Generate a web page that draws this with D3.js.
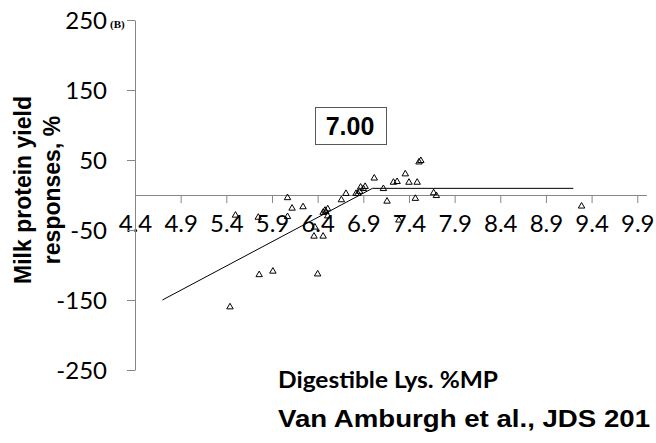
<!DOCTYPE html>
<html>
<head>
<meta charset="utf-8">
<script src="https://cdn.jsdelivr.net/npm/d3@7"></script>
<style>
  body { margin: 0; background: #fff; }
  #chart { width: 656px; height: 443px; }
  .tick text { font-family: Lato, "DejaVu Sans", sans-serif; font-size: 24px; fill: #000; }
</style>
</head>
<body>
<div id="chart"></div>
<script>
// digestible Lys (% of MP) and milk protein yield response (%) per study
const lysDigest = [5.44, 5.76, 5.91, 6.40, 5.50, 5.75, 6.07, 6.12, 6.24, 6.07,
                   6.46, 6.48, 6.51, 6.49, 6.51, 6.37, 6.36, 6.46, 6.66, 6.71,
                   6.82, 6.84, 6.86, 6.87, 6.90, 6.92, 7.02, 7.12, 7.16, 7.23,
                   7.27, 7.29, 7.36, 7.40, 7.49, 7.47, 7.51, 7.53, 7.67, 7.70, 9.29];
const proteinResp = [-160, -114, -109, -113, -29, -32, -4, -19, -17, -31,
                     -25, -22, -20, -24, -30, -46, -59, -59, -7, 2,
                     2, 2, 5, 11, 9, 12, 24, 9, -9, 18,
                     19, -36, 30, 18, 18, -5, 47, 49, 3, -1, -16];

// broken-line fit
const fitX = [4.70, 7.00, 9.20];
const fitY = [-150, 9.5, 9.5];
const breakLabel = "7.00";

const xTickLabels = [4.4, 4.9, 5.4, 5.9, 6.4, 6.9, 7.4, 7.9, 8.4, 8.9, 9.4, 9.9];
const yTickLabels = [-250, -150, -50, 50, 150, 250];

function BrokenLineChart() {

    let self = this;

    self.initialize = function(conf) {
        self.el = document.getElementById(conf.el);
        self.width = self.el.offsetWidth;
        self.height = self.el.offsetHeight;

        self.x = d3.scaleLinear().domain([4.4, 10.0]).range([135, 646.4]);
        self.y = d3.scaleLinear().domain([-250, 250]).range([370, 20]);

        self.render();
    };

    self.render = function() {
        self.svg = d3.select(self.el).append("svg")
                    .attr("width", self.width)
                    .attr("height", self.height);

        self.renderAxes();
        self.renderFit();
        self.renderPoints();
        self.renderLabels();
    };

    self.renderAxes = function() {
        let xAxis = d3.axisBottom(self.x)
                    .tickValues(xTickLabels)
                    .tickFormat(d3.format(".1f"))
                    .tickSize(8)
                    .tickSizeOuter(0)
                    .tickPadding(12);

        let gx = self.svg.append("g")
                    .attr("transform", "translate(0," + self.y(0) + ")")
                    .call(xAxis);

        let yAxis = d3.axisLeft(self.y)
                    .tickValues(yTickLabels)
                    .tickFormat(function(d) { return String(d); })   // plain hyphen like Excel
                    .tickSize(8)
                    .tickSizeOuter(0)
                    .tickPadding(20);

        let gy = self.svg.append("g")
                    .attr("transform", "translate(" + self.x(4.4) + ",0)")
                    .call(yAxis);

        gy.selectAll(".tick text").attr("dy", "0.36em");

        [gx, gy].forEach(function(g) {
            g.select(".domain").attr("stroke", "#868686");
            g.selectAll(".tick line").attr("stroke", "#868686");
        });
    };

    self.renderFit = function() {
        let line = d3.line()
                    .x(function(d, i) { return self.x(fitX[i]); })
                    .y(function(d, i) { return self.y(fitY[i]); });

        self.svg.append("path")
                .attr("d", line(fitX))
                .attr("fill", "none")
                .attr("stroke", "#000")
                .attr("stroke-width", 1);
    };

    self.renderPoints = function() {
        let tri = d3.symbol().type(d3.symbolTriangle).size(18);

        self.svg.selectAll("path.pt")
                .data(lysDigest)
                .enter()
                .append("path")
                .attr("class", "pt")
                .attr("d", tri)
                .attr("transform", function(d, i) {
                    return "translate(" + self.x(d) + "," + self.y(proteinResp[i]) + ")";
                })
                .attr("fill", "none")
                .attr("stroke", "#000")
                .attr("stroke-width", 1);
    };

    self.renderLabels = function() {
        // panel tag
        self.svg.append("text")
                .attr("x", 110).attr("y", 28)
                .attr("font-family", "'Liberation Serif', serif")
                .attr("font-weight", "bold")
                .attr("font-size", 11)
                .text("(B)");

        // breakpoint box
        self.svg.append("rect")
                .attr("x", 315.5).attr("y", 107.5)
                .attr("width", 71).attr("height", 37)
                .attr("fill", "#fff")
                .attr("stroke", "#595959");

        self.svg.append("text")
                .attr("x", 350).attr("y", 135)
                .attr("text-anchor", "middle")
                .attr("font-family", "'Liberation Sans', Arial, sans-serif")
                .attr("font-weight", "bold")
                .attr("font-size", 25)
                .text(breakLabel);

        // y title, two lines
        let yt = self.svg.append("text")
                .attr("transform", "translate(0,190) rotate(-90)")
                .attr("text-anchor", "middle")
                .attr("font-family", "'Liberation Sans', Arial, sans-serif")
                .attr("font-weight", "bold")
                .attr("font-size", 23);
        yt.append("tspan").attr("x", 0).attr("y", 31).text("Milk protein yield");
        yt.append("tspan").attr("x", 0).attr("y", 60).text("responses, %");

        // x title
        self.svg.append("text")
                .attr("x", 278).attr("y", 388)
                .attr("font-family", "Lato, sans-serif")
                .attr("font-weight", "bold")
                .attr("font-size", 22)
                .attr("textLength", 220)
                .attr("lengthAdjust", "spacingAndGlyphs")
                .text("Digestible Lys. %MP");

        // source
        self.svg.append("text")
                .attr("x", 278).attr("y", 427)
                .attr("font-family", "'Liberation Sans', Arial, sans-serif")
                .attr("font-weight", "bold")
                .attr("font-size", 24)
                .attr("textLength", 372)
                .attr("lengthAdjust", "spacingAndGlyphs")
                .text("Van Amburgh et al., JDS 201");
    };
}

let chart = new BrokenLineChart();
chart.initialize({ el: "chart" });
</script>
</body>
</html>
